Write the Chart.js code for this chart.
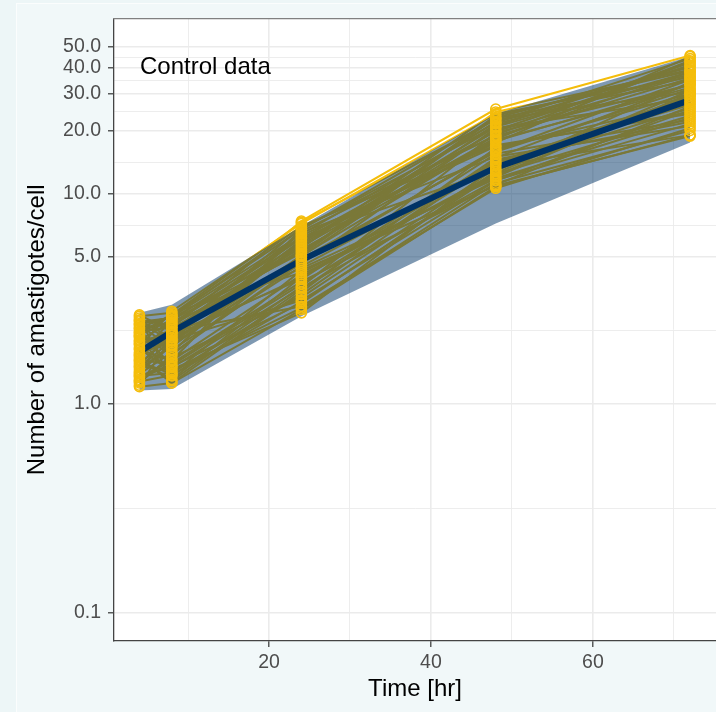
<!DOCTYPE html>
<html lang="en">
<head>
<meta charset="UTF-8">
<title>Control data</title>
<script src="https://cdn.jsdelivr.net/npm/chart.js"></script>
<style>
  body { margin: 0; background: #edf6f7; overflow: hidden; }
  .frame { position: absolute; left: 16px; top: 3px; width: 700px; height: 709px; background: #f1f8f9;
           border-left: 1px solid #fbfdfd; border-top: 1px solid #fbfdfd; }
  #chart { position: absolute; left: 0; top: 0; }
</style>
</head>
<body>
<div class="frame"></div>
<canvas id="chart" width="716" height="712"></canvas>
<script>
// time points [hr]
const times = [4, 8, 24, 48, 72];

// amastigotes per cell, one entry per tracked cell, at each time point
const t4  = [2.20, 1.20, 1.55, 2.60, 1.35, 1.80, 2.40, 1.45, 1.70, 2.05, 1.25, 1.95, 2.30, 1.60, 1.40, 2.64, 1.30, 1.85, 2.10, 1.50,
             2.50, 1.65, 1.22, 2.00, 1.75, 2.25, 1.38, 1.90, 2.45, 1.58, 2.15, 1.28, 2.35, 1.68, 2.55, 1.48, 1.82, 2.12, 1.33, 1.98,
             1.42, 2.28, 1.62, 2.38, 1.27, 1.92, 2.08, 1.52, 2.48, 1.72, 1.36, 2.18];
const t8  = [2.30, 1.25, 2.10, 2.70, 1.40, 1.60, 2.00, 1.90, 2.50, 1.35, 1.70, 2.20, 2.60, 1.30, 2.40, 2.20, 1.55, 2.75, 1.80, 1.45,
             2.35, 1.25, 2.05, 2.45, 1.95, 1.50, 1.75, 2.15, 2.55, 1.38, 2.65, 1.65, 1.85, 2.30, 1.28, 2.00, 1.42, 2.50, 1.60, 2.12,
             1.88, 2.40, 1.52, 2.58, 1.36, 2.25, 1.72, 2.18, 2.05, 1.98, 1.48, 2.62];
const t24 = [7.40, 2.80, 5.60, 4.20, 3.30, 6.80, 3.10, 4.80, 6.20, 3.60, 5.10, 2.90, 7.00, 4.00, 5.80, 6.50, 3.80, 7.20, 4.50, 2.70,
             5.30, 3.40, 6.00, 4.40, 5.00, 3.00, 6.60, 3.90, 5.50, 4.30, 7.30, 3.20, 5.90, 4.60, 3.50, 6.30, 2.85, 5.20, 4.10, 6.90,
             4.90, 6.10, 3.70, 6.40, 3.05, 5.40, 4.70, 5.70, 4.00, 5.05, 3.55, 6.75];
const t48 = [25.3, 10.8, 18.5, 12.0, 14.5, 21.0, 11.5, 16.0, 13.0, 19.5, 23.0, 10.6, 17.0, 12.5, 22.0, 15.0, 11.0, 24.0, 14.0, 13.5,
             20.0, 16.5, 18.0, 11.8, 21.5, 12.8, 19.0, 15.5, 24.5, 10.9, 22.5, 13.2, 17.5, 20.5, 14.8, 16.8, 11.2, 23.5, 12.2, 18.8,
             15.8, 19.8, 13.8, 21.8, 12.4, 17.8, 16.2, 20.8, 14.2, 18.2, 11.6, 22.8];
const t72 = [45.5, 19.0, 38.0, 30.0, 22.0, 42.0, 25.0, 35.0, 28.0, 33.0, 40.0, 20.5, 24.0, 31.0, 44.0, 21.0, 26.0, 36.0, 29.0, 19.0,
             41.0, 27.0, 32.0, 23.0, 37.0, 34.0, 43.0, 22.5, 39.0, 18.8, 30.5, 25.5, 45.0, 28.5, 33.5, 24.5, 20.0, 38.5, 29.5, 35.5,
             31.5, 36.5, 27.5, 40.5, 23.5, 33.0, 30.0, 38.0, 26.5, 42.5, 21.5, 34.5];

// mean trajectory and the shaded band around it
const meanCount = [1.76, 2.19, 4.82, 13.3, 27.9];
const bandLow   = [1.15, 1.17, 2.60, 7.20, 17.5];
const bandHigh  = [2.70, 2.95, 7.00, 24.0, 45.0];

// axis breaks
const yMajor = [0.1, 1, 5, 10, 20, 30, 40, 50];
const yLabels = ['0.1', '1.0', '5.0', '10.0', '20.0', '30.0', '40.0', '50.0'];
const yMinor = [0.316, 2.236, 7.071, 14.14, 24.49, 34.64, 44.72];
const xMajor = [20, 40, 60];
const xMinor = [10, 30, 50, 70];

const yellow = '#f4bd0b';
const navy = '#003366';
const font = '"Liberation Sans", Arial, sans-serif';

const series = [t4, t8, t24, t48, t72];
const xy = vals => times.map((t, j) => ({ x: t, y: vals[j] }));

const cellSets = t4.map((_, i) => ({
    data: xy(series.map(s => s[i])),
    borderColor: yellow,
    borderWidth: 2,
    pointRadius: 0,
    fill: false,
    order: 3
}));

const pointSet = {
    data: times.flatMap((t, j) => series[j].map(v => ({ x: t, y: v }))),
    showLine: false,
    pointRadius: 5,
    pointBorderWidth: 1.6,
    pointBorderColor: yellow,
    pointBackgroundColor: 'rgba(0,0,0,0)',
    order: 0
};

const isMajor = (list, v) => list.some(m => Math.abs(m - v) < 1e-6);

const panelPlugin = {
    id: 'panel',
    beforeDraw(chart) {
        const { ctx, chartArea: a } = chart;
        ctx.save();
        ctx.fillStyle = '#ffffff';
        ctx.fillRect(a.left, a.top, a.right - a.left, a.bottom - a.top);
        ctx.restore();
    },
    beforeDatasetsDraw(chart) {
        const { ctx, chartArea: a } = chart;
        ctx.save();
        ctx.strokeStyle = '#808080';
        ctx.lineWidth = 1.3;
        ctx.beginPath();
        ctx.moveTo(a.left - 1, a.top);
        ctx.lineTo(a.right, a.top);
        ctx.stroke();
        ctx.restore();
    },
    afterDatasetsDraw(chart) {
        const { ctx } = chart;
        ctx.save();
        ctx.fillStyle = '#000000';
        ctx.font = '24px ' + font;
        ctx.textBaseline = 'alphabetic';
        ctx.fillText('Control data', 140, 74);
        ctx.restore();
    }
};

new Chart(document.getElementById('chart'), {
    type: 'line',
    data: {
        datasets: [
            pointSet,
            { data: xy(meanCount), borderColor: navy, borderWidth: 6, pointRadius: 0, fill: false, order: 1 },
            { data: xy(bandHigh), borderWidth: 0, borderColor: 'rgba(0,0,0,0)', pointRadius: 0,
              fill: '+1', backgroundColor: 'rgba(0,51,102,0.5)', order: 2 },
            { data: xy(bandLow), borderWidth: 0, borderColor: 'rgba(0,0,0,0)', pointRadius: 0, fill: false, order: 2 },
            ...cellSets
        ]
    },
    options: {
        responsive: false,
        animation: false,
        layout: { autoPadding: false, padding: { top: 15, left: 0, right: 0, bottom: 0 } },
        plugins: { legend: { display: false }, tooltip: { enabled: false } },
        scales: {
            x: {
                type: 'linear',
                min: 0.86,
                max: 75.2,
                afterBuildTicks: s => { s.ticks = [...xMinor, ...xMajor].sort((a, b) => a - b).map(v => ({ value: v })); },
                afterFit: s => { s.height = 71; },
                ticks: {
                    autoSkip: false,
                    maxRotation: 0,
                    padding: 4,
                    color: '#4d4d4d',
                    font: { family: font, size: 19.5 },
                    callback: v => isMajor(xMajor, v) ? String(v) : ''
                },
                grid: {
                    color: '#ebebeb',
                    lineWidth: c => isMajor(xMajor, c.tick.value) ? 1.6 : 0.9,
                    tickLength: 6,
                    tickWidth: 1.2,
                    tickColor: c => isMajor(xMajor, c.tick.value) ? '#333333' : 'rgba(0,0,0,0)'
                },
                border: { display: true, color: '#444444', width: 1.3 },
                title: { display: true, text: 'Time [hr]', color: '#000000',
                         font: { family: font, size: 24 }, padding: { top: 0, bottom: 8 } }
            },
            y: {
                type: 'logarithmic',
                min: 0.0736,
                max: 68.2,
                afterBuildTicks: s => { s.ticks = [...yMinor, ...yMajor].sort((a, b) => a - b).map(v => ({ value: v })); },
                afterFit: s => { s.width = 114; },
                ticks: {
                    autoSkip: false,
                    padding: 7,
                    color: '#4d4d4d',
                    font: { family: font, size: 19.5 },
                    callback: v => { const k = yMajor.findIndex(m => Math.abs(m - v) < 1e-6); return k >= 0 ? yLabels[k] : ''; }
                },
                grid: {
                    color: '#ebebeb',
                    lineWidth: c => isMajor(yMajor, c.tick.value) ? 1.6 : 0.9,
                    tickLength: 6,
                    tickWidth: 1.2,
                    tickColor: c => isMajor(yMajor, c.tick.value) ? '#333333' : 'rgba(0,0,0,0)'
                },
                border: { display: true, color: '#444444', width: 1.3 },
                title: { display: true, text: 'Number of amastigotes/cell', color: '#000000',
                         font: { family: font, size: 24 }, padding: { top: 23, bottom: 0 } }
            }
        }
    },
    plugins: [panelPlugin]
});
</script>
</body>
</html>
